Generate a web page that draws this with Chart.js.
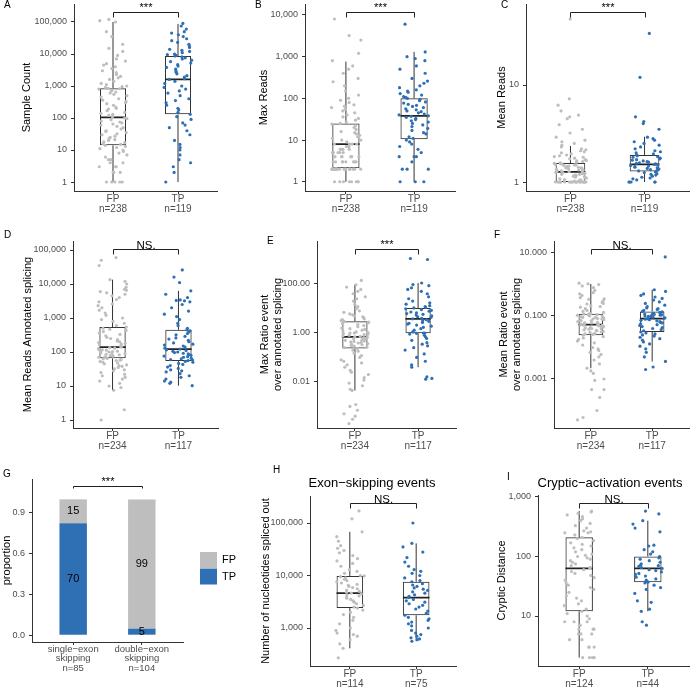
<!DOCTYPE html>
<html>
<head>
<meta charset="utf-8">
<script src="https://cdn.jsdelivr.net/npm/chart.js@4.4.0/dist/chart.umd.min.js"></script>
<style>
body { margin: 0; background: #fff; width: 693px; height: 687px; position: relative; overflow: hidden; }
canvas { position: absolute; }
</style>
</head>
<body>
<script>
// ---------- data ----------
const groups = ['FP', 'TP'];

// A - Sample Count
const sampleCountFP = [1,1,1,1,1,2,2,2,2,3,3,3,4,4,5,5,6,7,8,9,10,11,12,13,14,
  15,16,17,18,20,21,23,25,27,30,32,35,38,40,45,50,55,60,65,70,75,80,88,95,100,
  110,120,130,140,150,170,190,200,220,250,280,300,330,360,400,450,500,550,600,650,700,750,800,820,850,
  900,950,1000,1100,1200,1400,1600,1800,2000,2300,2600,3000,3500,4000,4500,5000,6000,7000,9000,12000,15000,20000,35000,50000,100000,110000,120000];
const sampleCountTP = [1,2,3,4,5,7,10,12,15,20,30,40,50,60,70,90,110,
  130,150,180,200,250,300,350,400,500,600,700,800,900,1000,1200,1400,1600,
  1700,1900,2100,2400,2700,3000,3400,3800,4200,4700,5200,5800,6400,7000,7600,8200,8700,
  9000,9500,10000,11000,12000,13000,14000,16000,18000,20000,23000,26000,30000,35000,40000,45000,50000,60000,75000,90000];
const sampleCountBox = [[1, 14, 105, 850, 100000], [1, 130, 1600, 8700, 87000]];
const sampleCountN = [238, 119];

// B - Max Reads
const maxReadsFP = [1,1,1,1,1,1,1,1,2,2,2,2,2,2,2,2,2,2,2,2,2,2,2,2,2,2,3,3,3,3,3,3,3,3,
  4,4,4,4,4,4,4,5,5,5,5,5,6,6,6,6,7,7,7,8,8,8,8,
  9,10,10,11,12,13,14,15,16,18,20,22,24,25,
  27,30,33,36,40,45,50,55,60,65,70,80,90,100,120,150,200,250,300,400,500,600,800,1200,2500,3200,8000];
const maxReadsTP = [1,1,1,2,2,2,3,4,4,4,5,6,7,8,9,10,
  11,12,14,15,17,19,21,23,25,27,29,31,33,35,37,38,
  40,42,45,48,50,53,56,60,64,68,72,77,82,88,94,100,
  105,110,120,130,140,150,160,180,200,230,260,300,400,500,600,800,900,1000,1300,6000];
const maxReadsBox = [[1, 2.1, 8, 25, 760], [1, 10.5, 38, 100, 1300]];
const maxReadsN = [238, 119];

// C - Mean Reads
const meanReadsFP = [1,1,1,1,1,1,1,1,1,1,1,1,1,1,1,1,1,1,1,1,1,1,
  1.02,1.04,1.05,1.06,1.08,1.1,1.1,1.12,1.14,1.15,1.17,1.18,1.2,1.2,1.22,1.23,1.25,1.26,1.27,
  1.28,1.3,1.3,1.32,1.33,1.35,1.36,1.38,1.4,1.4,1.42,1.43,1.45,1.46,1.48,1.5,1.5,1.52,1.53,1.55,1.56,1.58,
  1.6,1.62,1.65,1.67,1.7,1.73,1.76,1.8,1.83,1.86,1.9,1.95,2,2.05,2.1,2.15,2.2,2.3,2.4,2.5,2.6,2.7,2.9,
  3.2,3.5,3.9,4.5,4.7,4.9,5.4,6.2,7.2,48];
const meanReadsTP = [1,1,1,1,1,1.05,1.08,1.1,1.12,1.15,1.18,1.2,1.22,1.25,1.27,
  1.3,1.32,1.34,1.36,1.38,1.4,1.42,1.44,1.46,1.48,1.5,1.52,
  1.54,1.56,1.58,1.6,1.62,1.65,1.68,1.7,1.73,1.76,1.8,1.83,1.86,1.9,
  1.95,2,2.05,2.1,2.2,2.3,2.4,2.5,2.6,2.7,2.8,2.9,3.5,4,4.2,4.7,12,34];
const meanReadsBox = [[1, 1.0, 1.27, 1.57, 2.35], [1, 1.28, 1.52, 1.9, 2.93]];
const meanReadsN = [238, 119];

// D - Mean Reads Annotated splicing
const annotFP = [1,2,7.5,9,10,12,14,16,18,20,22,25,28,30,32,35,38,40,42,45,48,50,53,56,58,60,63,65,
  68,70,72,75,78,80,83,86,90,93,96,100,103,106,110,113,116,120,125,130,135,140,
  145,150,160,170,180,190,200,210,230,250,270,300,330,360,400,430,470,500,540,
  600,700,800,900,1000,1200,1400,1700,2000,2300,2600,3000,3500,4000,4500,5000,5500,6000,6500,7000,8000,10000,12000,13400,35000,50000,60000];
const annotTP = [10.2,12,13,14,16,18,20,23,26,28,30,33,36,40,43,46,50,53,
  56,58,60,63,66,70,73,76,80,84,88,92,96,100,105,110,116,122,
  130,140,150,160,170,185,200,220,240,260,290,320,350,390,420,450,
  500,600,700,900,1100,1300,1600,2000,2500,3000,3200,3300,3400,4000,5000,6300,11000,16000,26000];
const annotBox = [[7.5, 65, 140, 543, 13400], [10.2, 54, 122, 450, 6300]];
const annotN = [234, 117];

// E - Max Ratio event over annotated splicing
const maxRatioFP = [0.0002,0.0003,0.0004,0.0005,0.0007,0.001,0.0012,0.0045,0.005,0.007,0.009,0.012,0.015,0.02,0.025,0.03,0.04,0.05,0.06,0.07,0.08,0.1,0.12,0.15,0.18,0.2,0.23,
  0.25,0.27,0.29,0.31,0.33,0.35,0.37,0.39,0.41,0.43,0.45,0.47,0.5,0.52,0.55,0.58,0.6,0.62,0.65,0.67,0.69,
  0.72,0.76,0.8,0.85,0.9,0.95,1,1,1.05,1.1,1.2,1.3,1.4,1.5,1.6,1.8,2,2.2,2.4,2.6,2.8,3,
  3.2,3.5,3.8,4.2,4.6,5,5.5,6,7,8,10,12,15,20,25,30,40,50,60,75,93,140];
const maxRatioTP = [0.013,0.014,0.016,0.04,0.05,0.07,0.1,0.14,0.2,0.25,0.3,0.35,0.4,0.5,0.6,0.7,0.8,0.9,0.97,
  1,1,1.1,1.3,1.5,1.7,1.9,2.1,2.3,2.5,2.7,3,3.2,3.5,3.8,
  4,4.3,4.6,5,5.4,5.8,6.2,6.7,7.2,7.8,8.4,9,9.7,10.5,
  11,12,13,15,17,20,25,30,40,50,60,70,85,95,110,1000,1100];
const maxRatioBox = [[0.0045, 0.23, 0.69, 3.0, 93], [0.04, 0.97, 3.8, 10.5, 110]];
const maxRatioN = [234, 117];

// F - Mean Ratio event over annotated splicing
const meanRatioFP = [0.00005,0.00006,0.0001,0.00026,0.00046,0.00046,0.0009,0.001,0.0015,0.0018,0.0022,0.003,0.004,0.005,0.006,0.007,0.008,0.009,0.01,0.012,0.014,0.016,0.018,0.02,0.022,0.0245,
  0.026,0.027,0.028,0.03,0.031,0.032,0.034,0.035,0.036,0.038,0.039,0.04,0.042,0.043,0.044,0.046,0.047,0.048,0.05,0.05,0.051,0.052,0.053,
  0.055,0.058,0.06,0.06,0.063,0.066,0.07,0.07,0.073,0.076,0.08,0.08,0.083,0.087,0.09,0.09,0.095,0.1,0.1,0.105,0.11,0.11,0.115,0.118,
  0.12,0.13,0.14,0.15,0.17,0.19,0.2,0.21,0.24,0.25,0.27,0.3,0.34,0.35,0.38,0.45,0.5,0.55,0.65,0.8,0.9,1,1.04,1.1];
const meanRatioTP = [0.002,0.0024,0.0036,0.005,0.007,0.009,0.011,0.013,0.015,0.017,0.019,0.021,0.023,0.025,0.027,0.029,0.031,
  0.034,0.037,0.04,0.043,0.046,0.05,0.053,0.056,0.06,0.063,0.066,0.07,0.073,0.076,0.079,0.082,
  0.085,0.088,0.091,0.094,0.097,0.1,0.103,0.106,0.109,0.112,0.115,0.118,0.121,0.125,0.13,0.135,0.14,
  0.15,0.16,0.17,0.18,0.2,0.22,0.25,0.28,0.32,0.36,0.4,0.45,0.5,0.6,0.68,7.5];
const meanRatioBox = [[0.0022, 0.0245, 0.053, 0.118, 1.04], [0.0036, 0.031, 0.082, 0.14, 0.68]];
const meanRatioN = [234, 117];

// G - exon skipping proportions
const skipTypes = [['single\u2212exon', 'skipping'], ['double\u2212exon', 'skipping']];
const skipTP = [70, 5];
const skipFP = [15, 99];

// H - Exon-skipping events: nucleotides spliced out
const splicedFP = [270,410,500,600,700,750,800,900,1000,1200,1400,1600,1800,2000,2200,2400,
  2500,2700,2900,3100,3300,3500,3700,3900,4100,4300,4500,4600,
  4800,5000,5300,5600,5900,6200,6500,6800,7200,7600,8000,8500,9000,9500,9800,
  10000,11000,12000,13000,15000,17000,19000,21000,24000,27000,30000,33000,37000,45000,55000,68000,120000,170000];
const splicedTP = [560,600,620,650,700,750,800,900,1000,1100,1200,1300,1400,1500,1600,1750,
  1900,2100,2300,2500,2700,2900,3100,3300,3500,3800,
  4000,4300,4600,4900,5200,5500,5800,6200,6600,7000,7600,
  8000,9000,10000,11000,12000,13000,15000,18000,22000,28000,35000,41000,100000];
const splicedBox = [[410, 2400, 4600, 9800, 68000], [560, 1750, 3800, 7600, 41000]];
const splicedN = [114, 75];

// I - Cryptic-activation events: cryptic distance
const crypticFP = [2,2,2,2,3,3,3,4,4,5,5,5,6,6,6,7,7,8,8,8,9,10,11,12,
  13,15,16,18,20,22,25,28,30,33,36,40,44,48,52,56,60,63,
  66,70,75,80,85,90,95,100,105,110,120,130,140,150,160,170,185,200,210,
  230,250,250,260,270,300,330,360,400,430,470,500,530,560,580];
const crypticTP = [7,8,12,13,17,18,24,28,30,33,36,37,
  38,40,42,45,47,50,52,55,58,60,63,
  65,68,70,72,75,80,85,90,95,100,
  110,120,130,150,155,260,300,350,400,520,580];
const crypticBox = [[2, 12, 63, 210, 580], [12, 37, 63, 100, 400]];
const crypticN = [124, 44];

// tick values and labels
const ticksCount = [1, 10, 100, 1000, 10000, 100000];
const ticksCountLabels = ['1', '10', '100', '1,000', '10,000', '100,000'];
const ticksMaxReads = [1, 10, 100, 1000, 10000];
const ticksMaxReadsLabels = ['1', '10', '100', '1,000', '10,000'];
const ticksMeanReads = [1, 10];
const ticksMeanReadsLabels = ['1', '10'];
const ticksMaxRatio = [0.01, 1, 100];
const ticksMaxRatioLabels = ['0.01', '1.00', '100.00'];
const ticksMeanRatio = [0.001, 0.1, 10];
const ticksMeanRatioLabels = ['0.001', '0.100', '10.000'];
const ticksProp = [0, 0.3, 0.6, 0.9];
const ticksPropLabels = ['0.0', '0.3', '0.6', '0.9'];
const ticksSpliced = [1000, 10000, 100000];
const ticksSplicedLabels = ['1,000', '10,000', '100,000'];
const ticksCryptic = [10, 100, 1000];
const ticksCrypticLabels = ['10', '100', '1,000'];

// significance labels and bracket heights (data units), panels A..I
const sigLabels = ['***', '***', '***', 'NS.', '***', 'NS.', '***', 'NS.', 'NS.'];
const sigHeights = [205000, 12000, 57, 107000, 2690, 13.4, 1.1, 240000, 794];

// ---------- drawing ----------
const FONT = '"Liberation Sans", Arial, sans-serif';
Chart.defaults.font.family = FONT;
const greyPt = '#bebebe';
const bluePt = '#2f70b4';

function addCanvas(b) {
    const c = document.createElement('canvas');
    c.width = b.w; c.height = b.h;
    c.style.left = b.x + 'px'; c.style.top = b.y + 'px';
    c.style.width = b.w + 'px'; c.style.height = b.h + 'px';
    document.body.appendChild(c);
    return c;
}

// small hash so jitter is the same on every render
function jitter(i, k) {
    const s = Math.sin((i + 1) * 12.9898 + k * 78.233) * 43758.5453;
    return s - Math.floor(s) - 0.5;
}

function annotations(p, idx) {
    return {
        id: 'annot' + idx,
        afterDraw(chart) {
            const ctx = chart.ctx, xs = chart.scales.x, ys = chart.scales.y;
            const yb = Math.round(ys.getPixelForValue(sigHeights[idx])) + 0.5;
            const x1 = Math.round(xs.getPixelForValue(1)) + 0.5, x2 = Math.round(xs.getPixelForValue(2)) + 0.5;
            ctx.save();
            ctx.strokeStyle = '#222';
            ctx.lineWidth = 1;
            ctx.beginPath();
            ctx.moveTo(x1, yb + p.tick); ctx.lineTo(x1, yb); ctx.lineTo(x2, yb); ctx.lineTo(x2, yb + p.tick);
            ctx.stroke();
            ctx.fillStyle = '#000';
            ctx.textAlign = 'center';
            ctx.textBaseline = 'alphabetic';
            const ns = sigLabels[idx] === 'NS.';
            ctx.font = (ns ? '11.5px ' : '11px ') + FONT;
            ctx.fillText(sigLabels[idx], (x1 + x2) / 2, yb - (ns ? 1 : 2));
            // panel letter
            ctx.font = '10px ' + FONT;
            ctx.textAlign = 'left';
            ctx.textBaseline = 'middle';
            ctx.fillText(p.letter, p.letterAt[0] - p.box.x, p.letterAt[1] - p.box.y);
            if (p.plotTitle) {
                ctx.font = '13px ' + FONT;
                ctx.textAlign = 'center';
                ctx.fillText(p.plotTitle, p.plotTitleAt[0] - p.box.x, p.plotTitleAt[1] - p.box.y);
            }
            if (p.extra) p.extra(chart, ctx);
            ctx.restore();
        }
    };
}

function axisOptions(p) {
    const A = p.area, lh = 1.22;
    return {
        x: {
            type: 'linear', min: 0.4, max: 2.6, offset: false,
            afterBuildTicks: s => { s.ticks = [{value: 1}, {value: 2}]; },
            afterFit: s => { s.height = p.box.y + p.box.h - A.b; s.paddingLeft = 0; s.paddingRight = 0; },
            ticks: {callback: p.xLabel, color: '#4d4d4d', font: {size: p.xSize || 10, lineHeight: p.xLH || 1.0}, padding: 0, maxRotation: 0, autoSkip: false},
            grid: {drawOnChartArea: false, drawTicks: true, tickLength: 3, tickColor: '#333', offset: false},
            border: {color: '#333', width: 1}
        },
        y: {
            type: p.yType || 'logarithmic', min: p.yMin, max: p.yMax,
            afterBuildTicks: s => { s.ticks = p.ticks.map(v => ({value: v})); },
            afterFit: s => { s.width = A.l - p.box.x; s.paddingTop = 0; s.paddingBottom = 0; },
            ticks: {callback: (v, i) => p.tickLabels[i], color: '#4d4d4d', font: {size: 9}, padding: 4, autoSkip: false},
            grid: {drawOnChartArea: false, drawTicks: true, tickLength: 3, tickColor: '#333'},
            border: {color: '#333', width: 1},
            title: {display: true, text: p.title, color: '#000', font: {size: 11, lineHeight: lh},
                padding: {top: Math.max(0, p.titleX - p.box.x - 11 * lh / 2), bottom: 0}}
        }
    };
}

function baseOptions(p) {
    const A = p.area;
    return {
        responsive: false, animation: false, events: [],
        layout: {padding: {left: 0, top: A.t - p.box.y, right: p.box.x + p.box.w - A.r, bottom: 0}},
        plugins: {legend: {display: false}, tooltip: {enabled: false}},
        scales: axisOptions(p)
    };
}

function boxPanel(p, idx) {
    const cv = addCanvas(p.box);
    const half = 0.2;
    const whisk = [], med = [];
    p.stats.forEach((s, i) => {
        const x = i + 1;
        whisk.push({x, y: s[0]}, {x, y: s[1]}, {x, y: null}, {x, y: s[3]}, {x, y: s[4]}, {x, y: null});
        med.push({x: x - half, y: s[2]}, {x: x + half, y: s[2]}, {x, y: null});
    });
    const pts = (vals, pos, k) => vals.map((v, i) => ({x: pos + jitter(i, k) * 0.44, y: v}));
    p.xLabel = (v, i) => [groups[i], 'n=' + p.n[i]];
    new Chart(cv, {
        type: 'scatter',
        data: {datasets: [
            {type: 'bar', data: p.stats.map((s, i) => ({x: i + 1, y: [s[1], s[3]]})),
             backgroundColor: 'rgba(255,255,255,0)', borderColor: '#333', borderWidth: 1, borderSkipped: false,
             barPercentage: 0.4, categoryPercentage: 1, order: 5},
            {type: 'line', data: whisk, borderColor: '#333', borderWidth: 1, pointRadius: 0, spanGaps: false, order: 4},
            {type: 'line', data: med, borderColor: '#222', borderWidth: 1.8, pointRadius: 0, spanGaps: false, order: 3},
            {data: pts(p.fp, 1, idx * 2 + 1), backgroundColor: greyPt, borderWidth: 0, pointRadius: 1.6, order: 2},
            {data: pts(p.tp, 2, idx * 2 + 2), backgroundColor: bluePt, borderWidth: 0, pointRadius: 1.6, order: 1}
        ]},
        options: baseOptions(p),
        plugins: [annotations(p, idx)]
    });
}

const panels = [
    {letter: 'A', letterAt: [4, 5], box: {x: 0, y: 0, w: 231, h: 228}, area: {l: 74, t: 4, r: 217, b: 191},
     yMin: 0.524, yMax: 365000, ticks: ticksCount, tickLabels: ticksCountLabels, title: 'Sample Count', titleX: 27,
     fp: sampleCountFP, tp: sampleCountTP, stats: sampleCountBox, n: sampleCountN, tick: 5},
    {letter: 'B', letterAt: [255, 5], box: {x: 231, y: 0, w: 231, h: 228}, area: {l: 305, t: 4, r: 455, b: 191},
     yMin: 0.609, yMax: 18300, ticks: ticksMaxReads, tickLabels: ticksMaxReadsLabels, title: 'Max Reads', titleX: 264,
     fp: maxReadsFP, tp: maxReadsTP, stats: maxReadsBox, n: maxReadsN, tick: 5},
    {letter: 'C', letterAt: [501, 5], box: {x: 462, y: 0, w: 231, h: 228}, area: {l: 526, t: 4, r: 693, b: 191},
     yMin: 0.808, yMax: 68.4, ticks: ticksMeanReads, tickLabels: ticksMeanReadsLabels, title: 'Mean Reads', titleX: 502,
     fp: meanReadsFP, tp: meanReadsTP, stats: meanReadsBox, n: meanReadsN, tick: 5},
    {letter: 'D', letterAt: [4, 235], box: {x: 0, y: 228, w: 231, h: 228}, area: {l: 73, t: 241, r: 218, b: 428},
     yMin: 0.582, yMax: 184000, ticks: ticksCount, tickLabels: ticksCountLabels, title: 'Mean Reads Annotated splicing', titleX: 28,
     fp: annotFP, tp: annotTP, stats: annotBox, n: annotN, tick: 5},
    {letter: 'E', letterAt: [267, 241], box: {x: 231, y: 228, w: 231, h: 228}, area: {l: 317, t: 241, r: 456, b: 428},
     yMin: 0.000132, yMax: 5690, ticks: ticksMaxRatio, tickLabels: ticksMaxRatioLabels,
     title: ['Max Ratio event', 'over annotated splicing'], titleX: 265,
     fp: maxRatioFP, tp: maxRatioTP, stats: maxRatioBox, n: maxRatioN, tick: 5},
    {letter: 'F', letterAt: [494, 235], box: {x: 462, y: 228, w: 231, h: 228}, area: {l: 554, t: 241, r: 693, b: 428},
     yMin: 0.0000278, yMax: 24.0, ticks: ticksMeanRatio, tickLabels: ticksMeanRatioLabels,
     title: ['Mean Ratio event', 'over annotated splicing'], titleX: 504,
     fp: meanRatioFP, tp: meanRatioTP, stats: meanRatioBox, n: meanRatioN, tick: 5},
    null,
    {letter: 'H', letterAt: [273, 470], box: {x: 231, y: 456, w: 231, h: 231}, area: {l: 310, t: 496, r: 456, b: 666},
     yMin: 189, yMax: 327000, ticks: ticksSpliced, tickLabels: ticksSplicedLabels, title: 'Number of nucleotides spliced out', titleX: 266,
     fp: splicedFP, tp: splicedTP, stats: splicedBox, n: splicedN, tick: 5,
     plotTitle: 'Exon\u2212skipping events', plotTitleAt: [372, 483]},
    {letter: 'I', letterAt: [507, 477], box: {x: 462, y: 456, w: 231, h: 231}, area: {l: 538, t: 495, r: 693, b: 666},
     yMin: 1.445, yMax: 1080, ticks: ticksCryptic, tickLabels: ticksCrypticLabels, title: 'Cryptic Distance', titleX: 502,
     fp: crypticFP, tp: crypticTP, stats: crypticBox, n: crypticN, tick: 5,
     plotTitle: 'Cryptic\u2212activation events', plotTitleAt: [610, 483]}
];

panels.forEach((p, i) => { if (p) boxPanel(p, i); });

// G - stacked proportion bars
(function () {
    const p = {letter: 'G', letterAt: [3, 474], box: {x: 0, y: 456, w: 240, h: 231}, area: {l: 32, t: 479, r: 183, b: 642},
        yType: 'linear', yMin: -0.05, yMax: 1.15, ticks: ticksProp, tickLabels: ticksPropLabels, title: 'proportion', titleX: 6.5,
        tick: 2, xSize: 9.5, xLH: 0.97};
    const total = skipTP.map((t, i) => t + skipFP[i]);
    p.xLabel = (v, i) => [...skipTypes[i], 'n=' + total[i]];
    p.extra = (chart, ctx) => {
        const xs = chart.scales.x, ys = chart.scales.y;
        ctx.font = '11px ' + FONT;
        ctx.fillStyle = '#000';
        ctx.textAlign = 'center';
        ctx.textBaseline = 'middle';
        total.forEach((n, i) => {
            const tp = skipTP[i] / n;
            ctx.fillText(String(skipTP[i]), xs.getPixelForValue(i + 1), ys.getPixelForValue(tp / 2));
            ctx.fillText(String(skipFP[i]), xs.getPixelForValue(i + 1), ys.getPixelForValue((tp + 1) / 2));
        });
        // legend
        const lx = 200 - p.box.x, ly = 552 - p.box.y;
        ctx.fillStyle = greyPt; ctx.fillRect(lx, ly, 17, 16);
        ctx.fillStyle = bluePt; ctx.fillRect(lx, ly + 16.5, 17, 16);
        ctx.fillStyle = '#000';
        ctx.textAlign = 'left';
        ctx.fillText('FP', lx + 22, ly + 8);
        ctx.fillText('TP', lx + 22, ly + 24.5);
    };
    const cv = addCanvas(p.box);
    new Chart(cv, {
        type: 'scatter',
        data: {datasets: [
            {type: 'bar', data: skipTP.map((t, i) => ({x: i + 1, y: [0, t / total[i]]})), backgroundColor: bluePt,
             borderWidth: 0, grouped: false, barPercentage: 0.4, categoryPercentage: 1},
            {type: 'bar', data: skipFP.map((f, i) => ({x: i + 1, y: [skipTP[i] / total[i], 1]})), backgroundColor: greyPt,
             borderWidth: 0, grouped: false, barPercentage: 0.4, categoryPercentage: 1}
        ]},
        options: baseOptions(p),
        plugins: [annotations(p, 6)]
    });
})();
</script>
</body>
</html>
